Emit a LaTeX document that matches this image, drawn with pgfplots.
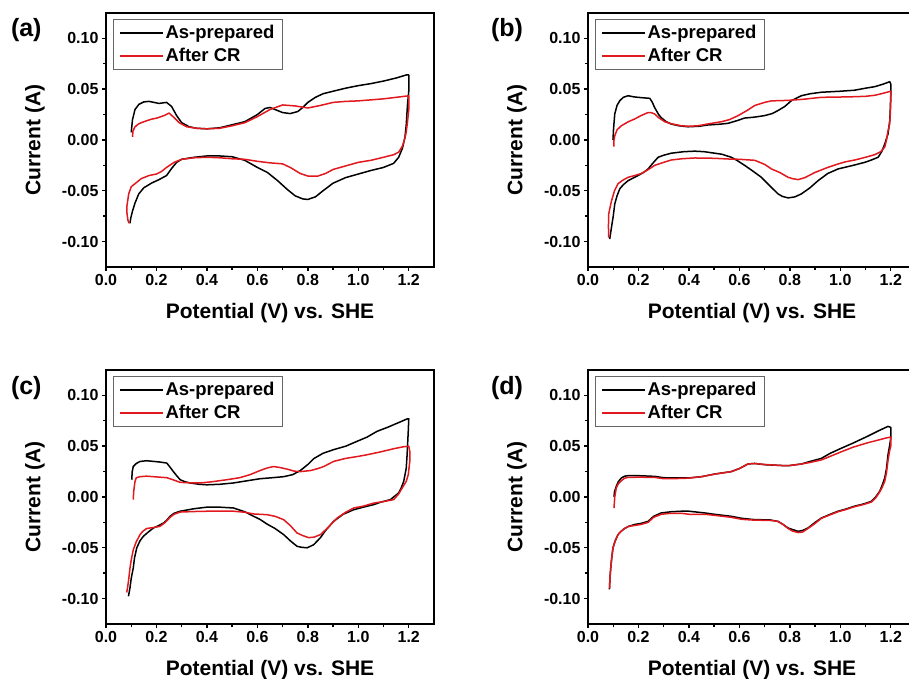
\documentclass[border=0pt]{standalone}
\usepackage{fontspec}
\setmainfont{Liberation Sans}
\usepackage{pgfplots}
\pgfplotsset{compat=1.18}
\definecolor{cvred}{RGB}{225,25,30}

\tikzset{panellabel/.style={font=\fontsize{25}{27}\selectfont\bfseries}}
\pgfplotsset{
  cvpanel/.style={
    scale only axis, width=328pt, height=254pt,
    xmin=0, xmax=1.3, ymin=-0.125, ymax=0.125,
    xtick={0,0.2,0.4,0.6,0.8,1.0,1.2},
    ytick={-0.10,-0.05,0,0.05,0.10},
    minor x tick num=1, minor y tick num=1,
    xtick pos=bottom, ytick pos=left,
    tick align=outside,
    major tick length=4pt, minor tick length=3pt,
    every tick/.style={black, line width=1.4pt},
    axis line style={line width=2pt},
    /pgf/number format/assume math mode=true,
    xticklabel style={/pgf/number format/fixed, /pgf/number format/fixed zerofill, /pgf/number format/precision=1},
    yticklabel style={/pgf/number format/fixed, /pgf/number format/fixed zerofill, /pgf/number format/precision=2},
    ticklabel style={font=\fontsize{16}{18}\selectfont\bfseries},
    label style={font=\fontsize{21}{24}\selectfont\bfseries},
    xlabel={Potential (V) vs. SHE}, ylabel={Current (A)},
    xlabel style={at={(axis description cs:0.5,-0.181)}, anchor=center},
    ylabel style={at={(axis description cs:-0.2165,0.5)}, anchor=center},
    legend style={at={(0.02,0.976)}, anchor=north west, draw=gray!80!black,
      line width=0.9pt, font=\fontsize{18.5}{21}\selectfont\bfseries,
      inner xsep=6pt, inner ysep=4pt, row sep=4pt},
    legend image code/.code={\draw[#1] (0pt,0pt) -- (43pt,0pt);},
    legend cell align=left,
    every axis plot/.append style={line width=1.5pt, line join=round},
    clip=false,
  },
}

\begin{document}
\begin{tikzpicture}
\useasboundingbox (0,0) rectangle (909pt,679pt);
\clip (0,0) rectangle (909pt,679pt);

% (a)
\begin{axis}[cvpanel, at={(106pt,412pt)}, anchor=south west]
\addplot[black] coordinates {
(0.100,0.0075)(0.105,0.020)(0.115,0.030)(0.13,0.035)(0.15,0.0375)(0.17,0.038)(0.19,0.037)(0.21,0.036)(0.24,0.037)(0.26,0.033)(0.28,0.024)(0.30,0.017)(0.33,0.013)(0.36,0.0115)(0.40,0.011)(0.45,0.012)(0.50,0.015)(0.55,0.018)(0.60,0.025)(0.63,0.031)(0.65,0.032)(0.67,0.030)(0.70,0.027)(0.73,0.026)(0.76,0.028)(0.78,0.032)(0.80,0.037)(0.83,0.042)(0.86,0.0455)(0.90,0.048)(0.95,0.051)(1.00,0.0535)(1.05,0.0555)(1.10,0.058)(1.15,0.061)(1.19,0.064)(1.20,0.064)(1.20,0.048)(1.195,0.035)(1.19,0.015)(1.185,0.003)(1.175,-0.008)(1.16,-0.017)(1.14,-0.023)(1.10,-0.027)(1.05,-0.030)(1.00,-0.0335)(0.95,-0.037)(0.90,-0.0425)(0.86,-0.050)(0.83,-0.056)(0.80,-0.0585)(0.78,-0.058)(0.75,-0.055)(0.72,-0.049)(0.68,-0.040)(0.64,-0.032)(0.60,-0.027)(0.55,-0.020)(0.50,-0.0165)(0.45,-0.0157)(0.40,-0.0157)(0.35,-0.017)(0.30,-0.019)(0.28,-0.022)(0.26,-0.028)(0.24,-0.035)(0.21,-0.039)(0.18,-0.0425)(0.15,-0.047)(0.13,-0.053)(0.115,-0.062)(0.105,-0.070)(0.098,-0.077)(0.095,-0.082)
};
\addplot[cvred] coordinates {
(0.105,0.003)(0.107,0.009)(0.115,0.013)(0.13,0.016)(0.15,0.018)(0.18,0.0205)(0.20,0.0215)(0.23,0.024)(0.25,0.0265)(0.27,0.022)(0.29,0.017)(0.32,0.013)(0.36,0.0115)(0.40,0.011)(0.45,0.0115)(0.50,0.014)(0.55,0.017)(0.60,0.023)(0.65,0.030)(0.70,0.0345)(0.75,0.0335)(0.80,0.0315)(0.85,0.034)(0.90,0.037)(0.95,0.038)(1.00,0.0385)(1.05,0.0395)(1.10,0.0405)(1.15,0.042)(1.20,0.0435)(1.20,0.030)(1.195,0.018)(1.19,0.008)(1.185,0.002)(1.175,-0.006)(1.16,-0.012)(1.14,-0.0145)(1.10,-0.017)(1.05,-0.020)(1.00,-0.022)(0.95,-0.0255)(0.90,-0.029)(0.87,-0.033)(0.84,-0.0355)(0.80,-0.0355)(0.77,-0.033)(0.73,-0.027)(0.70,-0.0235)(0.65,-0.0225)(0.60,-0.021)(0.55,-0.019)(0.50,-0.0185)(0.45,-0.0175)(0.40,-0.017)(0.35,-0.0175)(0.30,-0.019)(0.27,-0.022)(0.24,-0.027)(0.22,-0.031)(0.20,-0.0335)(0.17,-0.035)(0.14,-0.038)(0.12,-0.042)(0.10,-0.046)(0.09,-0.053)(0.083,-0.065)(0.083,-0.072)(0.087,-0.079)(0.092,-0.082)
};
\legend{As-prepared, After CR}
\node[panellabel] at (rel axis cs:-0.243,0.933) {(a)};
\end{axis}

% (b)
\begin{axis}[cvpanel, at={(588pt,412pt)}, anchor=south west]
\addplot[black] coordinates {
(0.099,0.0)(0.101,0.010)(0.106,0.0256)(0.115,0.034)(0.126,0.0387)(0.14,0.042)(0.159,0.0436)(0.18,0.0425)(0.198,0.042)(0.22,0.0415)(0.245,0.041)(0.255,0.037)(0.264,0.032)(0.28,0.025)(0.29,0.022)(0.31,0.018)(0.33,0.0157)(0.36,0.014)(0.396,0.013)(0.44,0.0135)(0.476,0.0148)(0.52,0.0155)(0.555,0.0164)(0.59,0.019)(0.621,0.0216)(0.66,0.0225)(0.70,0.024)(0.73,0.026)(0.753,0.029)(0.78,0.033)(0.806,0.0387)(0.846,0.0436)(0.88,0.0455)(0.925,0.047)(1.0,0.048)(1.057,0.049)(1.10,0.051)(1.137,0.0525)(1.17,0.055)(1.196,0.0574)(1.2,0.055)(1.2,0.045)(1.198,0.030)(1.196,0.019)(1.189,0.006)(1.176,-0.004)(1.165,-0.011)(1.15,-0.017)(1.12,-0.020)(1.097,-0.022)(1.05,-0.025)(0.991,-0.0285)(0.95,-0.033)(0.912,-0.040)(0.88,-0.047)(0.846,-0.053)(0.82,-0.056)(0.793,-0.057)(0.77,-0.0555)(0.753,-0.053)(0.72,-0.045)(0.687,-0.0367)(0.65,-0.030)(0.621,-0.025)(0.59,-0.020)(0.568,-0.017)(0.53,-0.014)(0.502,-0.013)(0.46,-0.0115)(0.423,-0.011)(0.38,-0.0115)(0.33,-0.013)(0.30,-0.015)(0.278,-0.017)(0.26,-0.022)(0.238,-0.0285)(0.22,-0.032)(0.198,-0.035)(0.159,-0.040)(0.14,-0.044)(0.126,-0.048)(0.115,-0.055)(0.106,-0.063)(0.10,-0.075)(0.093,-0.086)(0.086,-0.0975)
};
\addplot[cvred] coordinates {
(0.102,-0.0066)(0.103,0.000)(0.106,0.004)(0.115,0.010)(0.132,0.014)(0.16,0.018)(0.185,0.0207)(0.21,0.024)(0.238,0.027)(0.25,0.027)(0.264,0.0256)(0.28,0.022)(0.304,0.018)(0.33,0.016)(0.37,0.014)(0.40,0.0135)(0.436,0.014)(0.48,0.016)(0.529,0.018)(0.56,0.020)(0.595,0.024)(0.63,0.029)(0.661,0.034)(0.70,0.037)(0.727,0.0385)(0.793,0.039)(0.85,0.040)(0.925,0.042)(1.0,0.0423)(1.057,0.0426)(1.10,0.043)(1.137,0.044)(1.17,0.046)(1.20,0.048)(1.20,0.039)(1.198,0.025)(1.195,0.015)(1.189,0.009)(1.183,0.0)(1.176,-0.007)(1.16,-0.0115)(1.137,-0.0144)(1.10,-0.017)(1.057,-0.0197)(1.02,-0.0215)(0.991,-0.0236)(0.95,-0.027)(0.899,-0.032)(0.86,-0.037)(0.833,-0.039)(0.81,-0.038)(0.793,-0.0367)(0.76,-0.032)(0.727,-0.0285)(0.70,-0.024)(0.661,-0.020)(0.60,-0.019)(0.555,-0.0187)(0.50,-0.018)(0.423,-0.0177)(0.37,-0.0185)(0.33,-0.0197)(0.30,-0.022)(0.264,-0.025)(0.24,-0.029)(0.211,-0.033)(0.185,-0.035)(0.159,-0.0367)(0.135,-0.040)(0.119,-0.043)(0.105,-0.050)(0.093,-0.060)(0.086,-0.068)(0.082,-0.073)(0.081,-0.085)(0.082,-0.096)
};
\legend{As-prepared, After CR}
\node[panellabel] at (rel axis cs:-0.247,0.933) {(b)};
\end{axis}

% (c)
\begin{axis}[cvpanel, at={(106pt,55pt)}, anchor=south west]
\addplot[black] coordinates {
(0.102,0.017)(0.104,0.025)(0.108,0.030)(0.12,0.033)(0.135,0.035)(0.161,0.0357)(0.19,0.035)(0.214,0.0344)(0.241,0.0334)(0.255,0.029)(0.267,0.025)(0.28,0.021)(0.294,0.017)(0.313,0.015)(0.333,0.0138)(0.37,0.0125)(0.40,0.012)(0.45,0.0125)(0.505,0.0138)(0.56,0.016)(0.611,0.018)(0.66,0.019)(0.704,0.020)(0.74,0.022)(0.77,0.026)(0.80,0.032)(0.823,0.0377)(0.86,0.043)(0.902,0.0466)(0.95,0.050)(0.995,0.0548)(1.035,0.059)(1.074,0.0646)(1.12,0.069)(1.167,0.074)(1.195,0.077)(1.2,0.077)(1.198,0.065)(1.196,0.0548)(1.193,0.040)(1.19,0.0285)(1.18,0.0154)(1.17,0.009)(1.16,0.004)(1.14,0.0)(1.127,-0.0026)(1.09,-0.005)(1.061,-0.0075)(1.02,-0.010)(0.982,-0.0125)(0.94,-0.017)(0.902,-0.024)(0.87,-0.033)(0.85,-0.040)(0.823,-0.047)(0.797,-0.050)(0.775,-0.0495)(0.757,-0.0485)(0.73,-0.043)(0.704,-0.037)(0.67,-0.031)(0.638,-0.0266)(0.61,-0.022)(0.585,-0.019)(0.55,-0.0145)(0.505,-0.0108)(0.45,-0.010)(0.40,-0.010)(0.35,-0.0115)(0.294,-0.014)(0.27,-0.016)(0.254,-0.019)(0.24,-0.023)(0.228,-0.0256)(0.21,-0.028)(0.188,-0.0305)(0.165,-0.035)(0.148,-0.0387)(0.135,-0.043)(0.122,-0.050)(0.113,-0.060)(0.108,-0.070)(0.10,-0.080)(0.095,-0.0895)(0.089,-0.0977)
};
\addplot[cvred] coordinates {
(0.108,-0.0026)(0.110,0.006)(0.115,0.0154)(0.12,0.019)(0.135,0.020)(0.16,0.0205)(0.188,0.020)(0.214,0.0195)(0.241,0.019)(0.265,0.017)(0.294,0.0144)(0.33,0.014)(0.373,0.0138)(0.42,0.015)(0.479,0.017)(0.53,0.019)(0.571,0.022)(0.61,0.026)(0.638,0.0285)(0.664,0.030)(0.69,0.029)(0.717,0.0275)(0.745,0.0255)(0.77,0.025)(0.81,0.026)(0.84,0.028)(0.863,0.030)(0.902,0.035)(0.95,0.038)(1.0,0.040)(1.035,0.0416)(1.09,0.0445)(1.14,0.0475)(1.18,0.0495)(1.2,0.050)(1.204,0.045)(1.204,0.035)(1.198,0.022)(1.19,0.0154)(1.174,0.0089)(1.16,0.003)(1.14,-0.0026)(1.10,-0.0045)(1.061,-0.006)(1.02,-0.009)(0.982,-0.0108)(0.95,-0.015)(0.916,-0.0207)(0.88,-0.030)(0.85,-0.037)(0.825,-0.0395)(0.803,-0.040)(0.78,-0.038)(0.757,-0.0354)(0.73,-0.028)(0.704,-0.0223)(0.67,-0.019)(0.638,-0.0174)(0.585,-0.0167)(0.55,-0.015)(0.505,-0.014)(0.45,-0.014)(0.40,-0.014)(0.35,-0.0143)(0.294,-0.0148)(0.27,-0.017)(0.254,-0.020)(0.235,-0.025)(0.214,-0.0289)(0.19,-0.030)(0.161,-0.031)(0.145,-0.034)(0.135,-0.037)(0.12,-0.044)(0.108,-0.052)(0.10,-0.062)(0.095,-0.070)(0.089,-0.083)(0.085,-0.090)(0.082,-0.094)
};
\legend{As-prepared, After CR}
\node[panellabel] at (rel axis cs:-0.243,0.930) {(c)};
\end{axis}

% (d)
\begin{axis}[cvpanel, at={(588pt,55pt)}, anchor=south west]
\addplot[black] coordinates {
(0.103,0.0)(0.105,0.005)(0.112,0.0105)(0.12,0.015)(0.132,0.0187)(0.145,0.0205)(0.159,0.021)(0.20,0.021)(0.264,0.0203)(0.30,0.019)(0.33,0.0187)(0.396,0.0187)(0.45,0.020)(0.502,0.0226)(0.568,0.025)(0.60,0.028)(0.634,0.0325)(0.66,0.033)(0.70,0.0318)(0.767,0.031)(0.80,0.031)(0.846,0.0325)(0.88,0.035)(0.925,0.038)(0.96,0.043)(1.004,0.048)(1.05,0.053)(1.11,0.060)(1.15,0.065)(1.189,0.0695)(1.2,0.0685)(1.2,0.058)(1.195,0.050)(1.189,0.0416)(1.183,0.028)(1.176,0.0187)(1.165,0.011)(1.156,0.0056)(1.14,0.0)(1.123,-0.0043)(1.09,-0.007)(1.057,-0.009)(1.02,-0.012)(0.991,-0.014)(0.96,-0.017)(0.925,-0.0207)(0.90,-0.025)(0.872,-0.0305)(0.85,-0.033)(0.833,-0.0338)(0.81,-0.032)(0.793,-0.0305)(0.773,-0.027)(0.753,-0.024)(0.72,-0.0225)(0.661,-0.0223)(0.61,-0.021)(0.568,-0.019)(0.50,-0.017)(0.463,-0.0157)(0.40,-0.014)(0.37,-0.014)(0.33,-0.0145)(0.29,-0.0157)(0.26,-0.019)(0.238,-0.024)(0.21,-0.026)(0.185,-0.027)(0.16,-0.029)(0.145,-0.031)(0.13,-0.034)(0.119,-0.037)(0.108,-0.043)(0.099,-0.050)(0.094,-0.060)(0.09,-0.070)(0.087,-0.080)(0.085,-0.091)
};
\addplot[cvred] coordinates {
(0.103,-0.011)(0.106,0.0)(0.112,0.0089)(0.12,0.013)(0.132,0.016)(0.145,0.0185)(0.159,0.0193)(0.20,0.0195)(0.264,0.0193)(0.30,0.018)(0.33,0.018)(0.396,0.0185)(0.45,0.020)(0.502,0.0225)(0.568,0.025)(0.60,0.028)(0.634,0.0325)(0.66,0.033)(0.70,0.032)(0.767,0.031)(0.80,0.031)(0.846,0.0325)(0.88,0.034)(0.925,0.0365)(0.96,0.040)(1.004,0.0445)(1.05,0.049)(1.11,0.0535)(1.15,0.056)(1.18,0.058)(1.2,0.059)(1.2,0.050)(1.195,0.045)(1.189,0.036)(1.183,0.024)(1.176,0.0154)(1.165,0.009)(1.156,0.005)(1.14,-0.001)(1.123,-0.005)(1.09,-0.0075)(1.057,-0.0095)(1.02,-0.0125)(0.991,-0.0145)(0.96,-0.0175)(0.925,-0.021)(0.90,-0.026)(0.872,-0.031)(0.85,-0.0345)(0.833,-0.035)(0.81,-0.0335)(0.793,-0.031)(0.773,-0.027)(0.753,-0.024)(0.72,-0.023)(0.661,-0.0228)(0.61,-0.022)(0.568,-0.020)(0.50,-0.018)(0.463,-0.017)(0.40,-0.017)(0.37,-0.016)(0.33,-0.016)(0.29,-0.017)(0.26,-0.020)(0.238,-0.025)(0.21,-0.027)(0.185,-0.028)(0.16,-0.029)(0.145,-0.031)(0.13,-0.034)(0.119,-0.037)(0.108,-0.043)(0.099,-0.050)(0.094,-0.060)(0.09,-0.070)(0.087,-0.080)(0.085,-0.090)
};
\legend{As-prepared, After CR}
\node[panellabel] at (rel axis cs:-0.247,0.930) {(d)};
\end{axis}
\end{tikzpicture}
\end{document}
